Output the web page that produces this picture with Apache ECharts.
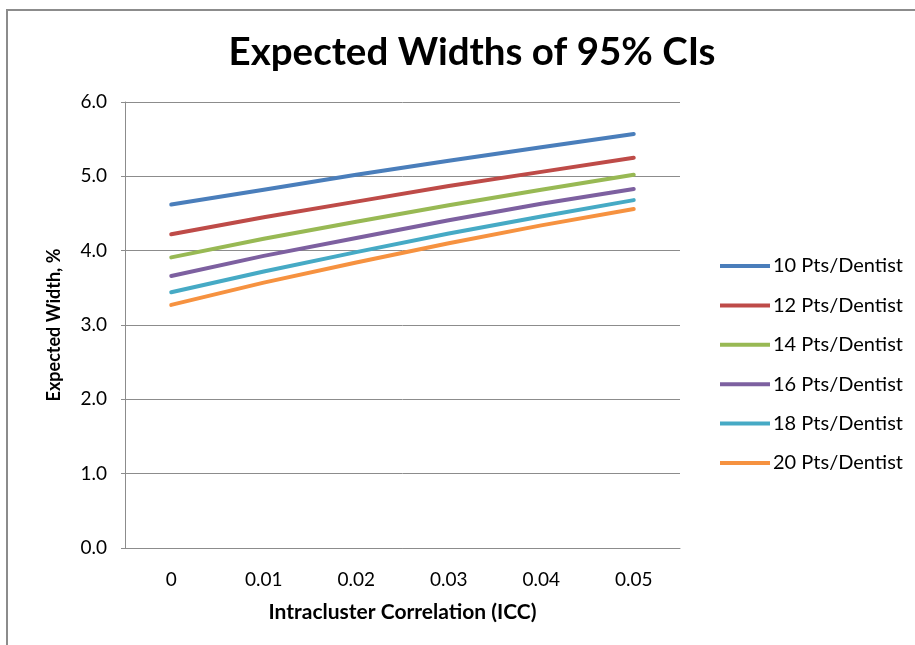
<!DOCTYPE html>
<html>
<head>
<meta charset="utf-8">
<script src="https://cdn.jsdelivr.net/npm/echarts@6/dist/echarts.min.js"></script>
<style>
  html, body { margin: 0; padding: 0; background: #fff; }
  #chart { width: 915px; height: 645px; }
</style>
</head>
<body>
<div id="chart"></div>
<script>
// ICC values on the x axis
const iccLabels = ['0', '0.01', '0.02', '0.03', '0.04', '0.05']
const seriesNames = ['10 Pts/Dentist', '12 Pts/Dentist', '14 Pts/Dentist', '16 Pts/Dentist', '18 Pts/Dentist', '20 Pts/Dentist']

// expected CI widths (%)
const pts10 = [4.62, 4.82, 5.02, 5.21, 5.39, 5.57]
const pts12 = [4.22, 4.45, 4.66, 4.87, 5.06, 5.25]
const pts14 = [3.91, 4.16, 4.39, 4.61, 4.82, 5.02]
const pts16 = [3.66, 3.93, 4.17, 4.41, 4.63, 4.83]
const pts18 = [3.44, 3.72, 3.98, 4.23, 4.46, 4.68]
const pts20 = [3.27, 3.57, 3.84, 4.10, 4.34, 4.56]

const colors = ['#4a7ebb', '#be4b48', '#98b954', '#7d60a0', '#46aac5', '#f69240']
const allData = [pts10, pts12, pts14, pts16, pts18, pts20]

const font = 'Lato, "Open Sans", sans-serif'
const chart = echarts.init(document.getElementById('chart'), null, { renderer: 'canvas' })

const option = {
  backgroundColor: '#fff',
  animation: false,
  color: colors,
  title: {
    text: 'Expected Widths of 95% CIs',
    left: 467,
    top: 28,
    textAlign: 'center',
    textStyle: { fontFamily: font, fontSize: 38.5, fontWeight: 'bold', color: '#000' }
  },
  graphic: [{
    type: 'rect',
    shape: { x: 7, y: 10, width: 1000, height: 700 },
    style: { fill: 'none', stroke: '#8c8c8c', lineWidth: 2 },
    silent: true
  }],
  legend: {
    orient: 'vertical',
    left: 715,
    top: 251,
    icon: 'rect',
    itemWidth: 50,
    itemHeight: 4,
    itemGap: 19.4,
    data: seriesNames,
    textStyle: { fontFamily: font, fontSize: 20, color: '#000', lineHeight: 20, padding: [0, 0, 0, -2] }
  },
  grid: { left: 125, right: 235, top: 102, bottom: 97, containLabel: false },
  xAxis: {
    type: 'category',
    data: iccLabels,
    boundaryGap: true,
    name: 'Intracluster Correlation (ICC)',
    nameLocation: 'middle',
    nameGap: 54,
    nameTextStyle: { fontFamily: font, fontSize: 21, fontWeight: 'bold', color: '#000' },
    axisLine: { lineStyle: { color: '#8c8c8c', width: 1 } },
    axisTick: { show: false },
    axisLabel: { fontFamily: font, fontSize: 19, color: '#000', margin: 22 }
  },
  yAxis: {
    type: 'value',
    min: 0,
    max: 6,
    interval: 1,
    name: 'Expected Width, %',
    nameLocation: 'middle',
    nameGap: 62,
    nameTextStyle: { fontFamily: font, fontSize: 18, fontWeight: 'bold', color: '#000' },
    axisLine: { show: true, lineStyle: { color: '#8c8c8c', width: 1 } },
    axisTick: { show: true, length: 4, lineStyle: { color: '#8c8c8c' } },
    splitLine: { lineStyle: { color: '#8c8c8c', width: 1 } },
    axisLabel: {
      fontFamily: font, fontSize: 19, color: '#000', margin: 18,
      formatter: v => v.toFixed(1)
    }
  },
  series: seriesNames.map((name, i) => ({
    name: name,
    type: 'line',
    data: allData[i],
    showSymbol: false,
    symbol: 'none',
    lineStyle: { width: 4, cap: 'round', color: colors[i] },
    itemStyle: { color: colors[i] }
  }))
}
chart.setOption(option)
</script>
</body>
</html>
